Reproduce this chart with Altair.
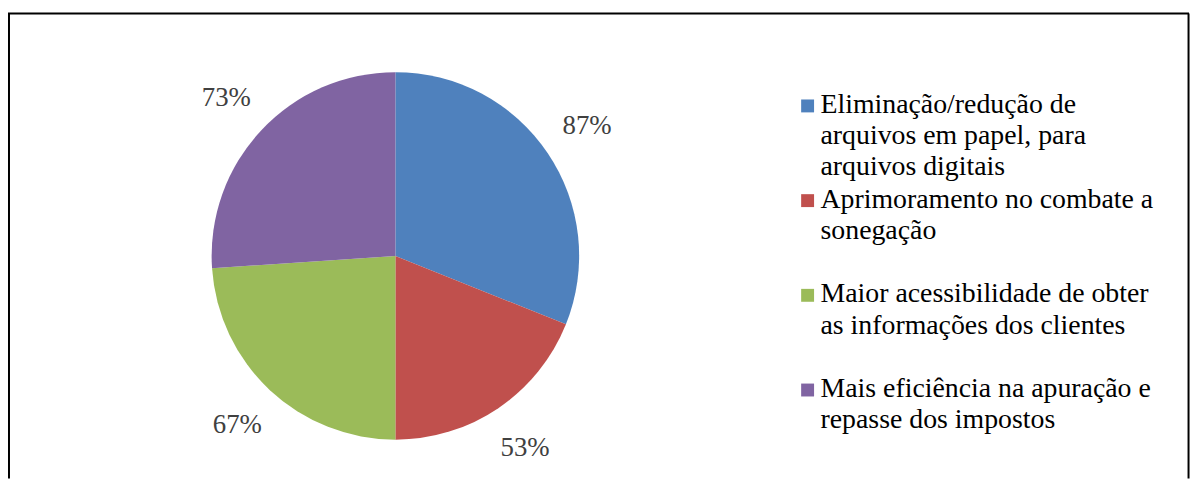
import altair as alt
import pandas as pd

categories = [
    "Eliminação/redução de arquivos em papel, para arquivos digitais",
    "Aprimoramento no combate a sonegação",
    "Maior acessibilidade de obter as informações dos clientes",
    "Mais eficiência na apuração e repasse dos impostos",
]
values = [87, 53, 67, 73]
legend_lines = [
    ["Eliminação/redução de", "arquivos em papel, para", "arquivos digitais"],
    ["Aprimoramento no combate a", "sonegação"],
    ["Maior acessibilidade de obter", "as informações dos clientes"],
    ["Mais eficiência na apuração e", "repasse dos impostos"],
]
colors = ["#4F81BD", "#C0504D", "#9BBB59", "#8064A2"]

df = pd.DataFrame({
    "cat": categories,
    "value": values,
    "idx": list(range(len(categories))),
    "legend": ["\n".join(l) for l in legend_lines],
})

W, H = 1194, 472
CX, CY, R = 390, 248, 185
FONT = "Liberation Serif, Times New Roman, DejaVu Serif, serif"

color = alt.Color("cat:N", scale=alt.Scale(domain=categories, range=colors), legend=None)
theta = alt.Theta("value:Q", stack=True)
order = alt.Order("idx:Q")

base = alt.Chart(df)

pie = base.mark_arc(stroke=None).encode(
    theta=theta, color=color, order=order,
    x=alt.value(CX), y=alt.value(CY), radius=alt.value(R),
)

labels = base.transform_calculate(lab="datum.value + '%'").mark_text(
    font=FONT, fontSize=27, color="#404040", baseline="middle", align="center"
).encode(
    theta=theta, order=order, text="lab:N",
    x=alt.value(CX), y=alt.value(CY), radius=alt.value(233),
)

yscale = alt.Scale(type="point", domain=[0, 1, 2, 3], range=[104, 390], padding=0)

swatches = base.mark_square(size=169, opacity=1).encode(
    x=alt.value(805),
    y=alt.Y("idx:O", scale=yscale, axis=None),
    color=color,
    yOffset=alt.value(-7),
)

legend_text = base.mark_text(
    font=FONT, fontSize=28, color="#000000", align="left", baseline="alphabetic",
    lineBreak="\n", lineHeight=31.5,
).encode(
    x=alt.value(818),
    y=alt.Y("idx:O", scale=yscale, axis=None),
    text="legend:N",
)

border = alt.Chart(pd.DataFrame({"k": [0]})).mark_rule(color="#000000", strokeWidth=2)
left = border.encode(x=alt.value(1), y=alt.value(4), y2=alt.value(H))
top = border.encode(x=alt.value(0), x2=alt.value(1189), y=alt.value(4))
right = border.encode(x=alt.value(1188.5), y=alt.value(4), y2=alt.value(H))

chart = alt.layer(pie, labels, swatches, legend_text, left, top, right).properties(
    width=W, height=H, padding=0, autosize="none"
).configure_view(stroke=None)

chart.save("out.html", embed_options={"renderer": "svg", "actions": False})
